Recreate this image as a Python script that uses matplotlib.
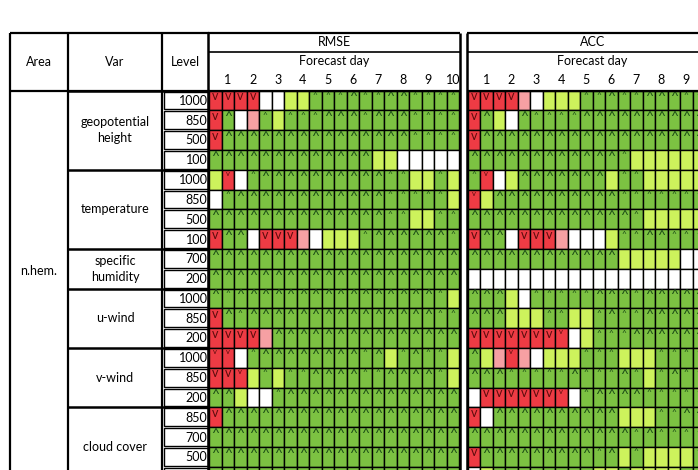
import matplotlib
matplotlib.use("Agg")
import matplotlib.pyplot as plt
from matplotlib.patches import Rectangle

plt.rcParams['font.family'] = ['Lato', 'DejaVu Sans']

area = "n.hem."
variables = [("geopotential\nheight", ["1000", "850", "500", "100"]),
             ("temperature", ["1000", "850", "500", "100"]),
             ("specific\nhumidity", ["700", "200"]),
             ("u-wind", ["1000", "850", "200"]),
             ("v-wind", ["1000", "850", "200"]),
             ("cloud cover", ["850", "700", "500", "200"])]
days = [str(d) for d in range(1, 11)]
panels = ["RMSE", "ACC"]

# codes: V red+big v, v red+small v, p pink, w white, y light green, A green+big ^, a green+small ^
rmse = ["VVVVwwyyaaaAaaAAaaaa",
        "VAwpayaaaAAAaAAAaaaa",
        "VAAAAAAAAAAAAAAAaaaa",
        "AAAAAAAAAAAAAyywwwww",
        "yvwaAAAAAAAAAAaayyay",
        "waAAAAAAAAAAAAaaaaay",
        "AAAAAAAAAAAAAAaayyaa",
        "VAAwVVVpwyyyaAAAAAAa",
        "AAAAAAAAAAAAAAAAAAAA",
        "AAAAAAAAAAAAAAAAAAAA",
        "AaAAAAAAAAAAAAAAAAay",
        "VAaAAAAAAAAAAAAAAAaa",
        "VVVVpAAAAAAAAAAAAAAA",
        "vvwaAAAAAAAAaAyaAaay",
        "VVvyayaaAAAAaaAAAAay",
        "AAywwaAAAAAAAAAAAAAA",
        "VAAAAAAAAAAAAAAAAAAA",
        "AAAAAAAAAAAAAAAAAAAA",
        "AAAAAAAAAAAAAAAAAAAA",
        "AAAAAAAAAAAAAAAAAAAA"]
acc = ["VVVVpwyyyaaAaaAAAaaa",
       "VAywAaaaaAAAAAAAAAAA",
       "VAAAAAAAAAAAAAAAAAAA",
       "AAAAAAAAAAAAayyyyyyy",
       "avwyAAAAAAAyaayyyyyy",
       "vyAAAAAAAAAAaaaaaaaa",
       "AAAAAAAAAAAAAayyyyyy",
       "VAAwVVVpwwwyaaAAaaaa",
       "AAAAAAAAAAAAyyyyywww",
       "wwwwwwwwwwwwwwwwwwww",
       "AAAywaaaaaAAAaAAAAAA",
       "AAAyyyaayyaAaaAAAAAA",
       "VVVVVVVvwyaaaAAAAAAA",
       "Aypvpwyyyaaayyyaaaaa",
       "AAAaaaaaAaaaAayaAaaa",
       "wVVVVVVvwaAAAAaaaaaa",
       "VwAAAAAAAAAAyyyaaAAA",
       "AAAAAAAAAAAAAaAaaaaa",
       "VAAAAAAAAAaAyayyyyaa",
       "wyAAAAAAAAyyayyyyaay"]

colors = {'V': '#ee3b44', 'v': '#ee3b44', 'p': '#f6a0a3', 'w': '#ffffff',
          'y': '#cdf25c', 'A': '#7cc242', 'a': '#7cc242'}

fig = plt.figure(figsize=(6.98, 4.70), dpi=100)
ax = fig.add_axes([0, 0, 1, 1])
ax.set_xlim(0, 698)
ax.set_ylim(470, 0)
ax.axis('off')

top, hdr_bot, rh = 33, 90.5, 19.8
cw = 12.5
panel_x = [209, 467.5]
xa, xv, xl = 10, 68, 162
fs = 9
nrows = len(rmse)
ybot = hdr_bot + rh * nrows

def line(x0, x1, y0, y1, lw=1.0):
    ax.plot([x0, x1], [y0, y1], color='black', lw=lw, solid_capstyle='butt', zorder=5)

for x0, x1, t in [(xa, xv, "Area"), (xv, xl, "Var"), (xl, panel_x[0], "Level")]:
    ax.text((x0 + x1) / 2, (top + hdr_bot) / 2, t, ha='center', va='center', fontsize=fs)
line(xa, panel_x[0], top, top, 1.6)
line(xa, panel_x[0], hdr_bot, hdr_bot, 1.6)
for x in (xa, xv, xl):
    line(x, x, top, ybot, 1.6)

ax.text((xa + xv) / 2, 271, area, ha='center', va='center', fontsize=fs)

r = 0
for name, levels in variables:
    y0 = hdr_bot + r * rh
    y1 = y0 + rh * len(levels)
    ax.text((xv + xl) / 2, (y0 + y1) / 2, name, ha='center', va='center', fontsize=fs, linespacing=1.4)
    line(xv, panel_x[0], y0, y0, 1.8)
    for i, lv in enumerate(levels):
        yy = y0 + i * rh
        ax.add_patch(Rectangle((xl + 1.5, yy + 1), panel_x[0] - xl - 2.5, rh - 2, fc='white', ec='black', lw=1.0, zorder=4))
        if yy + rh / 2 < 468:
            ax.text(panel_x[0] - 1.5, yy + rh / 2 + 0.5, lv, ha='right', va='center', fontsize=fs, zorder=6)
    r += len(levels)

for p, (name, data) in enumerate(zip(panels, [rmse, acc])):
    x0 = panel_x[p]
    x1 = x0 + cw * 20
    ax.text((x0 + x1) / 2, 42, name, ha='center', va='center', fontsize=fs)
    ax.text((x0 + x1) / 2, 61, "Forecast day", ha='center', va='center', fontsize=fs)
    for i, d in enumerate(days):
        ax.text(x0 + cw * (2 * i + 1.5), 80, d, ha='center', va='center', fontsize=fs)
    line(x0 - 1, x1 + 1, top, top, 1.6)
    line(x0 - 1, x1 + 1, 52, 52, 1.2)
    line(x0 - 1, x1 + 1, hdr_bot, hdr_bot, 1.6)
    line(x0 - 1, x0 - 1, top, ybot, 1.8)
    line(x1 + 1, x1 + 1, top, ybot, 1.8)
    for ri, row in enumerate(data):
        for ci, c in enumerate(row):
            cx = x0 + ci * cw
            cy = hdr_bot + ri * rh
            ax.add_patch(Rectangle((cx, cy), cw, rh, fc=colors[c], ec='black', lw=1.0, zorder=3))
            if cy + 8 > 468:
                continue
            if c == 'A':
                ax.text(cx + cw / 2, cy + 7, '^', ha='center', va='center', fontsize=10, color='#1a4a16', zorder=4)
            elif c == 'a':
                ax.text(cx + cw / 2, cy + 5, '^', ha='center', va='center', fontsize=6, color='#1a4a16', zorder=4)
            elif c == 'V':
                ax.text(cx + cw / 2, cy + 5.5, 'v', ha='center', va='center', fontsize=9, color='#5a0c0c', zorder=4)
            elif c == 'v':
                ax.text(cx + cw / 2, cy + 3.5, 'v', ha='center', va='center', fontsize=5.5, color='#5a0c0c', zorder=4)

fig.savefig("out.png", dpi=100)
